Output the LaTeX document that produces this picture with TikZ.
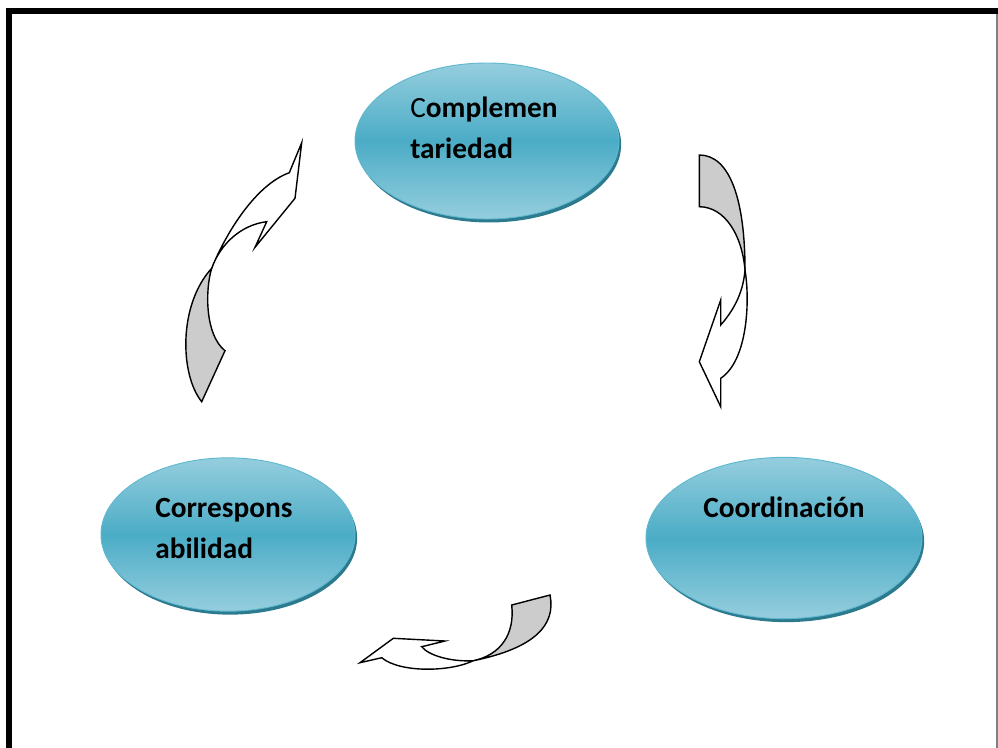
\documentclass[tikz,border=0pt]{standalone}
\usepackage{fontspec}
\setmainfont{Carlito}
\usetikzlibrary{shapes.geometric,shadows}
\definecolor{tealmid}{HTML}{4BACC6}
\definecolor{teallight}{HTML}{95CEDE}
\definecolor{tealedge}{HTML}{5FB8CF}
\definecolor{tealshadow}{HTML}{2C7A8E}
\definecolor{arrowgray}{HTML}{CCCCCC}
\begin{document}
\begin{tikzpicture}[x=0.75pt,y=-0.75pt,
  bubble/.style={ellipse, draw=tealedge, line width=0.7pt,
    top color=teallight, bottom color=teallight, middle color=tealmid,
    drop shadow={shadow xshift=1.6pt, shadow yshift=-2.6pt, fill=tealshadow, opacity=1},
    inner sep=0pt},
  lbl/.style={anchor=base west, align=left, inner sep=0pt,
    font=\fontsize{22}{30.75}\selectfont\bfseries},
  arrfront/.style={draw=black, line width=1.05pt, fill=white, line join=miter},
  arrback/.style={draw=black, line width=1.05pt, fill=arrowgray, line join=miter}]
\useasboundingbox (0,0) rectangle (998,747);
% frame
\draw[line width=4.5pt] (9,770) -- (9,11) -- (1010,11);
\draw[gray, line width=0.8pt] (997,14) -- (997,770);

% ellipses
\node[bubble, minimum width=198pt, minimum height=117pt] (comp) at (487,141) {};
\node[bubble, minimum width=207pt, minimum height=121pt] (coord) at (784,538) {};
\node[bubble, minimum width=190.5pt, minimum height=115pt] (corr) at (228,534.5) {};

% texts (base anchor = baseline of last line)
\node[lbl] (tcomp) at (410,158) {{\mdseries C}omplemen\\tariedad};
\node[lbl] (tcoord) at (703,517) {Coordinación};
\node[lbl] (tcorr) at (155,558) {Correspons\\abilidad};

% top-left curved arrow (pointing up-right)
\draw[arrback] (201.7,401.7) .. controls (180,375) and (178,305) .. (211.7,268.3)
  .. controls (205,290) and (205,335) .. (225,350.7) -- cycle;
\draw[arrfront] (211.7,268.3) .. controls (225,235) and (255,185) .. (289.3,172.7)
  -- (301.7,142.7) -- (295,198.3) -- (255,247.3) -- (266.7,221.7)
  .. controls (240,225) and (220,245) .. (211.7,268.3) -- cycle;

% right curved arrow (pointing down)
\draw[arrback] (699.3,155) .. controls (730,155) and (745,200) .. (745,270)
  .. controls (742,235) and (725,207) .. (699.3,206.7) -- cycle;
\draw[arrfront] (745,270) .. controls (750,300) and (748,360) .. (720.7,378.3)
  -- (720.7,406.7) -- (699.3,361.7) -- (720.7,300) -- (720.7,325)
  .. controls (732,312) and (743,295) .. (745,270) -- cycle;

% bottom curved arrow (pointing left)
\draw[arrback] (550,595) .. controls (556,625) and (535,648) .. (473.3,660.7)
  .. controls (500,655) and (515,635) .. (511.7,605) -- cycle;
\draw[arrfront] (473.3,660.7) .. controls (450,672) and (400,673) .. (381.7,657.7)
  -- (360,662.7) -- (393.3,638.3) -- (445,641) -- (421.7,646.7)
  .. controls (428,655) and (450,662) .. (473.3,660.7) -- cycle;
\end{tikzpicture}
\end{document}
